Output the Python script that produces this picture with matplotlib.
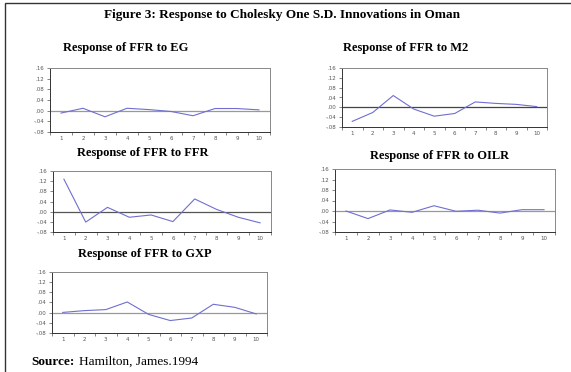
import matplotlib
matplotlib.use("Agg")
import matplotlib.pyplot as plt
from matplotlib.patches import Rectangle

periods = list(range(1, 11))
eg = [-0.009, 0.009, -0.023, 0.009, 0.004, -0.003, -0.019, 0.008, 0.008, 0.003]
m2 = [-0.057, -0.021, 0.048, -0.007, -0.036, -0.025, 0.022, 0.016, 0.012, 0.003]
ffr = [0.128, -0.041, 0.017, -0.022, -0.013, -0.039, 0.050, 0.009, -0.022, -0.044]
oilr = [0.000, -0.029, 0.004, -0.005, 0.020, -0.001, 0.003, -0.008, 0.005, 0.005]
gxp = [0.001, 0.008, 0.012, 0.042, -0.007, -0.031, -0.021, 0.033, 0.021, -0.005]
yticks = [-0.08, -0.04, 0.0, 0.04, 0.08, 0.12, 0.16]
ytick_labels = ["-.08", "-.04", ".00", ".04", ".08", ".12", ".16"]

W, H = 571, 372
fig = plt.figure(figsize=(W / 100, H / 100), dpi=100)
fig.patch.set_facecolor("white")

serif = ["Liberation Serif", "DejaVu Serif"]

# outer frame
fig.add_artist(Rectangle((5 / W, -0.05), 1.2, 1 - 3 / H + 0.05, transform=fig.transFigure,
                         fill=False, edgecolor="#333333", linewidth=1.0))

fig.text(282 / W, 1 - 15 / H, "Figure 3: Response to Cholesky One S.D. Innovations in Oman",
         ha="center", va="center", fontsize=9.5, fontweight="bold", family=serif)

panels = [
    ("Response of FFR to EG", eg, (50, 68, 270, 132), (126, 48), "#999999"),
    ("Response of FFR to M2", m2, (342, 68, 547, 127), (406, 48), "#444444"),
    ("Response of FFR to FFR", ffr, (53, 171, 271, 232), (143, 153), "#555555"),
    ("Response of FFR to OILR", oilr, (335, 169, 555, 232), (440, 156), "#999999"),
    ("Response of FFR to GXP", gxp, (52, 272, 267, 333), (145, 254), "#999999"),
]

for title, vals, (x0, y0, x1, y1), (tx, ty), zc in panels:
    ax = fig.add_axes([x0 / W, 1 - y1 / H, (x1 - x0) / W, (y1 - y0) / H])
    ax.plot(periods, vals, color="#6f6fd0", linewidth=0.8)
    ax.axhline(0, color=zc, linewidth=0.9, zorder=1)
    ax.set_xlim(0.5, 10.5)
    ax.set_ylim(-0.08, 0.16)
    ax.set_yticks(yticks)
    ax.set_yticklabels(ytick_labels)
    ax.set_xticks(periods)
    ax.set_xticklabels([str(p) for p in periods])
    ax.set_xticks([p + 0.5 for p in range(0, 11)], minor=True)
    ax.tick_params(axis="both", which="major", labelsize=4, colors="#555555",
                   length=2, width=0.5, pad=2)
    ax.tick_params(axis="x", which="major", length=0, pad=3)
    ax.tick_params(axis="x", which="minor", length=2, width=0.5, color="#555555")
    for s in ax.spines.values():
        s.set_color("#888888")
        s.set_linewidth(0.7)
    ax.spines["left"].set_color("#333333")
    ax.spines["bottom"].set_color("#333333")
    fig.text(tx / W, 1 - ty / H, title, ha="center", va="center", fontsize=9,
             fontweight="bold", family=serif)

fig.text(31 / W, 1 - 362 / H, "Source:", ha="left", va="center", fontsize=9.5,
         fontweight="bold", family=serif)
fig.text(79 / W, 1 - 362 / H, "Hamilton, James.1994", ha="left", va="center",
         fontsize=9.5, family=serif)

fig.savefig("out.png", dpi=100, facecolor="white")
